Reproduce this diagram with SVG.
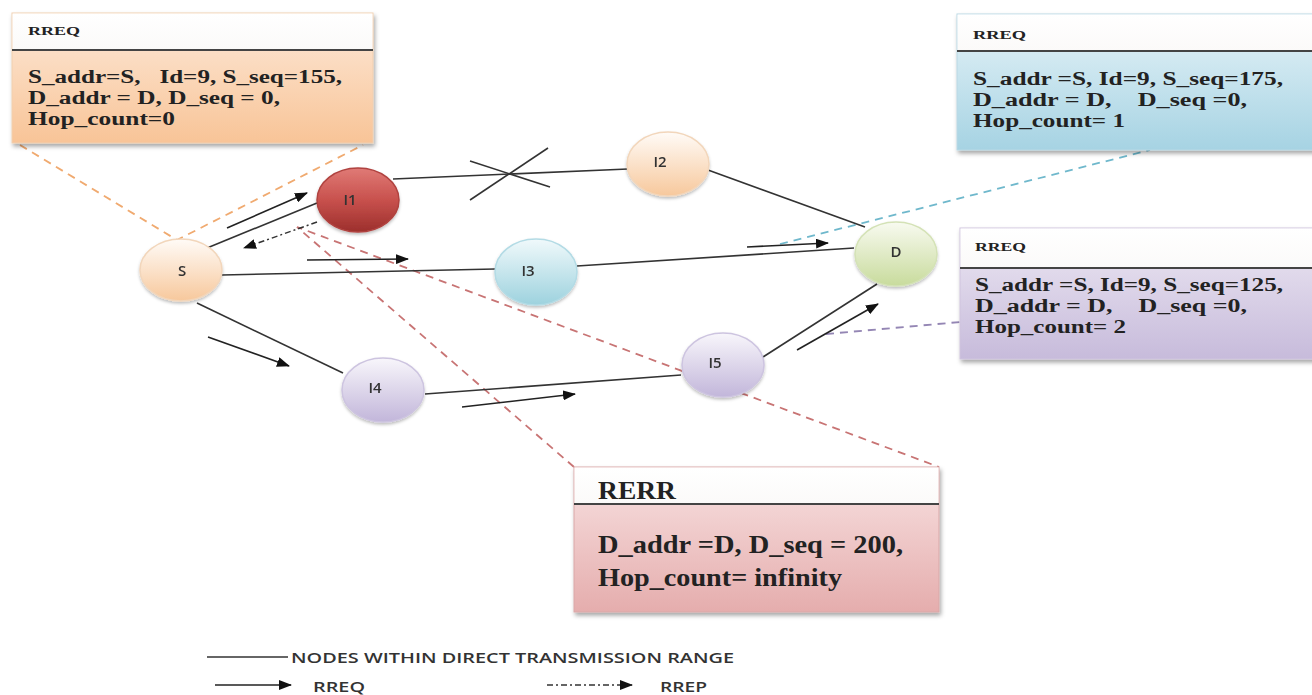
<svg xmlns="http://www.w3.org/2000/svg" width="1312" height="695" viewBox="0 0 1312 695">
<style>
.edge{stroke:#333;stroke-width:1.6;fill:none}
.rreq{stroke:#222;stroke-width:1.6;fill:none;marker-end:url(#ah)}
.rrep{stroke:#333;stroke-width:1.5;fill:none;stroke-dasharray:6 3 2 3;marker-end:url(#ah)}
.nlab{font-family:"Open Sans","Liberation Sans",sans-serif;font-size:15px;font-weight:600;fill:#333;text-anchor:middle}
.hdr{font-family:"Liberation Serif",serif;font-weight:bold;fill:#222}
.body{font-family:"Liberation Serif",serif;font-weight:bold;fill:#222}
.sep{stroke:#444;stroke-width:2}
.leg{font-family:"Open Sans","Liberation Sans",sans-serif;font-size:15px;font-weight:600;fill:#333}
.dash{fill:none;stroke-width:1.8;stroke-dasharray:8 6}
</style>
<defs>
<marker id="ah" markerUnits="userSpaceOnUse" markerWidth="13" markerHeight="10" refX="12" refY="5" orient="auto"><path d="M0,0 L13,5 L0,10 z" fill="#111"/></marker>
<filter id="sh" x="-10%" y="-10%" width="130%" height="140%"><feDropShadow dx="1.5" dy="3" stdDeviation="2" flood-color="#000" flood-opacity="0.35"/></filter>
<filter id="nsh" x="-20%" y="-20%" width="140%" height="150%"><feDropShadow dx="0" dy="2" stdDeviation="1.5" flood-color="#000" flood-opacity="0.25"/></filter>
<linearGradient id="gPeach" x1="0" y1="0" x2="0" y2="1"><stop offset="0" stop-color="#fffbf7"/><stop offset="1" stop-color="#f7c89c"/></linearGradient>
<linearGradient id="gRed" x1="0" y1="0" x2="0" y2="1"><stop offset="0" stop-color="#e07a76"/><stop offset="0.5" stop-color="#c8514d"/><stop offset="1" stop-color="#9c2f2c"/></linearGradient>
<linearGradient id="gBlue" x1="0" y1="0" x2="0" y2="1"><stop offset="0" stop-color="#f0f9fb"/><stop offset="1" stop-color="#9dd2de"/></linearGradient>
<linearGradient id="gGreen" x1="0" y1="0" x2="0" y2="1"><stop offset="0" stop-color="#f8faf0"/><stop offset="1" stop-color="#c8db9c"/></linearGradient>
<linearGradient id="gLav" x1="0" y1="0" x2="0" y2="1"><stop offset="0" stop-color="#f8f6fb"/><stop offset="1" stop-color="#c2b6da"/></linearGradient>
<linearGradient id="bPeach" x1="0" y1="0" x2="0" y2="1"><stop offset="0" stop-color="#fde9d9"/><stop offset="1" stop-color="#f8c497"/></linearGradient>
<linearGradient id="bBlue" x1="0" y1="0" x2="0" y2="1"><stop offset="0" stop-color="#e6f3f8"/><stop offset="1" stop-color="#a6d3e3"/></linearGradient>
<linearGradient id="bLav" x1="0" y1="0" x2="0" y2="1"><stop offset="0" stop-color="#ede8f3"/><stop offset="1" stop-color="#c7bbdb"/></linearGradient>
<linearGradient id="bPink" x1="0" y1="0" x2="0" y2="1"><stop offset="0" stop-color="#f8e2e2"/><stop offset="1" stop-color="#e5adad"/></linearGradient>
<linearGradient id="hdrG" x1="0" y1="0" x2="0" y2="1"><stop offset="0" stop-color="#ffffff"/><stop offset="1" stop-color="#fbfaf9"/></linearGradient>
</defs>
<rect width="1312" height="695" fill="#fff"/>

<g id="callouts">
<path class="dash" stroke="#f0aa70" d="M20,145 L177,240 L363,145"/>
<path class="dash" stroke="#6fb8cc" d="M780,244 L1150,150"/>
<path class="dash" stroke="#9486b4" d="M826,334 L960,322"/>
<path class="dash" stroke="#c87474" d="M574,467 L297,227 L939,467"/>
</g>

<g id="connectors">
<line class="edge" x1="207" y1="248" x2="317" y2="203"/>
<line class="edge" x1="393" y1="179" x2="628" y2="169"/>
<line class="edge" x1="470" y1="161" x2="550" y2="187"/>
<line class="edge" x1="470" y1="200" x2="548" y2="148"/>
<line class="edge" x1="708" y1="170" x2="865" y2="227"/>
<line class="edge" x1="222" y1="275" x2="495" y2="269"/>
<line class="edge" x1="577" y1="266" x2="854" y2="248"/>
<line class="edge" x1="197" y1="303" x2="343" y2="373"/>
<line class="edge" x1="425" y1="394" x2="681" y2="375"/>
<line class="edge" x1="763" y1="357" x2="877" y2="284"/>
<line class="rreq" x1="227" y1="228" x2="307" y2="193"/>
<path class="rrep" d="M317,222 L244,248"/>
<line class="rreq" x1="307" y1="260" x2="408" y2="259"/>
<line class="rreq" x1="747" y1="247" x2="828" y2="243"/>
<line class="rreq" x1="208" y1="337" x2="289" y2="366"/>
<line class="rreq" x1="462" y1="407" x2="575" y2="394"/>
<line class="rreq" x1="797" y1="350" x2="878" y2="304"/>
</g>

<g id="node-S" filter="url(#nsh)"><ellipse cx="181" cy="270" rx="41" ry="31" fill="url(#gPeach)" stroke="#f2d6bb" stroke-width="1.5"/><text class="nlab" x="182" y="276">S</text></g>
<g id="node-I1" filter="url(#nsh)"><ellipse cx="358" cy="200" rx="41" ry="32" fill="url(#gRed)" stroke="#b0423f" stroke-width="1.5"/><text class="nlab" x="350" y="205">I1</text></g>
<g id="node-I2" filter="url(#nsh)"><ellipse cx="668" cy="164" rx="41" ry="32" fill="url(#gPeach)" stroke="#f2d6bb" stroke-width="1.5"/><text class="nlab" x="660" y="167">I2</text></g>
<g id="node-I3" filter="url(#nsh)"><ellipse cx="536" cy="272" rx="41" ry="33" fill="url(#gBlue)" stroke="#b3dbe5" stroke-width="1.5"/><text class="nlab" x="528" y="276">I3</text></g>
<g id="node-D" filter="url(#nsh)"><ellipse cx="896" cy="254" rx="41" ry="32" fill="url(#gGreen)" stroke="#d4e2b6" stroke-width="1.5"/><text class="nlab" x="896" y="257">D</text></g>
<g id="node-I4" filter="url(#nsh)"><ellipse cx="383" cy="390" rx="41" ry="32" fill="url(#gLav)" stroke="#cdc4e0" stroke-width="1.5"/><text class="nlab" x="375" y="393">I4</text></g>
<g id="node-I5" filter="url(#nsh)"><ellipse cx="723" cy="365" rx="41" ry="32" fill="url(#gLav)" stroke="#cdc4e0" stroke-width="1.5"/><text class="nlab" x="715" y="368">I5</text></g>

<g id="box-rreq1">
<rect x="12" y="13" width="361" height="130" fill="url(#bPeach)" stroke="#f0cfb0" filter="url(#sh)"/>
<rect x="12.5" y="13.5" width="360" height="36.5" fill="url(#hdrG)"/>
<line class="sep" x1="12" y1="50" x2="373" y2="50"/>
<text class="hdr" x="28" y="35" font-size="13" textLength="52" lengthAdjust="spacingAndGlyphs">RREQ</text>
<text class="body" x="28" y="83" font-size="18" textLength="314" lengthAdjust="spacingAndGlyphs" xml:space="preserve">S_addr=S,   Id=9, S_seq=155,</text>
<text class="body" x="28" y="104" font-size="18" textLength="252" lengthAdjust="spacingAndGlyphs">D_addr = D, D_seq = 0,</text>
<text class="body" x="28" y="125" font-size="18" textLength="147" lengthAdjust="spacingAndGlyphs">Hop_count=0</text>
</g>

<g id="box-rreq2">
<rect x="957" y="14" width="362" height="136" fill="url(#bBlue)" stroke="#b9d8e4" filter="url(#sh)"/>
<rect x="957.5" y="14.5" width="360" height="36.5" fill="url(#hdrG)"/>
<line class="sep" x1="957" y1="51" x2="1312" y2="51"/>
<text class="hdr" x="973" y="39" font-size="13" textLength="53" lengthAdjust="spacingAndGlyphs">RREQ</text>
<text class="body" x="973" y="85" font-size="18" textLength="310" lengthAdjust="spacingAndGlyphs">S_addr =S, Id=9, S_seq=175,</text>
<text class="body" x="973" y="106" font-size="18" textLength="274" lengthAdjust="spacingAndGlyphs" xml:space="preserve">D_addr = D,    D_seq =0,</text>
<text class="body" x="973" y="127" font-size="18" textLength="152" lengthAdjust="spacingAndGlyphs">Hop_count= 1</text>
</g>

<g id="box-rreq3">
<rect x="960" y="228" width="362" height="131" fill="url(#bLav)" stroke="#cfc4de" filter="url(#sh)"/>
<rect x="960.5" y="228.5" width="360" height="39.5" fill="url(#hdrG)"/>
<line class="sep" x1="960" y1="268" x2="1312" y2="268"/>
<text class="hdr" x="975" y="251" font-size="13" textLength="51" lengthAdjust="spacingAndGlyphs">RREQ</text>
<text class="body" x="975" y="291" font-size="18" textLength="308" lengthAdjust="spacingAndGlyphs">S_addr =S, Id=9, S_seq=125,</text>
<text class="body" x="975" y="312" font-size="18" textLength="272" lengthAdjust="spacingAndGlyphs" xml:space="preserve">D_addr = D,    D_seq =0,</text>
<text class="body" x="975" y="333" font-size="18" textLength="151" lengthAdjust="spacingAndGlyphs">Hop_count= 2</text>
</g>

<g id="box-rerr">
<rect x="574" y="467" width="365" height="145" fill="url(#bPink)" stroke="#d9a8a8" filter="url(#sh)"/>
<rect x="574.5" y="467.5" width="364" height="36.5" fill="url(#hdrG)"/>
<line class="sep" x1="574" y1="504" x2="939" y2="504"/>
<text class="hdr" x="598" y="499" font-size="25" textLength="78" lengthAdjust="spacingAndGlyphs">RERR</text>
<text class="body" x="598" y="553" font-size="25" textLength="305" lengthAdjust="spacingAndGlyphs">D_addr =D, D_seq = 200,</text>
<text class="body" x="598" y="586" font-size="25" textLength="244" lengthAdjust="spacingAndGlyphs">Hop_count= infinity</text>
</g>

<g id="legend">
<line class="edge" x1="207" y1="657" x2="288" y2="657"/>
<text class="leg" x="291" y="663" textLength="443" lengthAdjust="spacingAndGlyphs">NODES WITHIN DIRECT TRANSMISSION RANGE</text>
<line class="rreq" x1="215" y1="685" x2="291" y2="685"/>
<text class="leg" x="313" y="692" textLength="52" lengthAdjust="spacingAndGlyphs">RREQ</text>
<line class="rrep" x1="547" y1="685" x2="632" y2="685"/>
<text class="leg" x="660" y="692" textLength="47" lengthAdjust="spacingAndGlyphs">RREP</text>
</g>
</svg>
